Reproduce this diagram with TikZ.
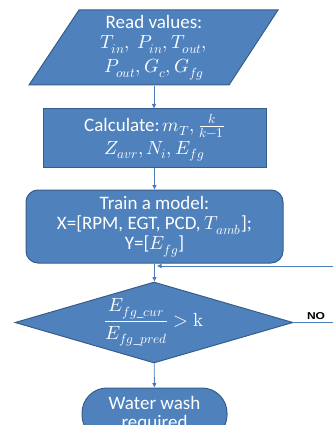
\documentclass[tikz,border=0pt]{standalone}
\usepackage{fontspec}
\usepackage{unicode-math}
\setmainfont{Carlito}
\newfontfamily\nofont{Liberation Sans}
\usetikzlibrary{shapes.geometric,arrows.meta}
\definecolor{boxblue}{HTML}{4F81BD}
\definecolor{edgeblue}{HTML}{385D8A}
\definecolor{lineblue}{HTML}{4A7EBB}

\begin{document}
\begin{tikzpicture}[x=1pt,y=-1pt,
  box/.style={draw=edgeblue,fill=boxblue,line width=1pt,text=white,align=center,
    font=\fontsize{19}{21}\selectfont},
  link/.style={draw=lineblue,line width=0.9pt,-{Triangle[length=4.5pt,width=4pt]}}]
  \useasboundingbox (0,0) rectangle (333,425);

  % input parallelogram, text node on top of it
  \draw[box] (79,10) -- (278,10) -- (229,85) -- (29,85) -- cycle;
  \node[box,draw=none,fill=none,minimum height=75pt] (read) at (154,48)
    {Read values:\\[-1pt] $T_{in},\ P_{in},T_{out},$\\[3pt] $P_{out}, G_c, G_{fg}$};

  \node[box,minimum width=223pt,minimum height=58pt] (calc) at (154.5,138)
    {Calculate:\,$m_T,\frac{k}{k-1}$\\[2pt] $Z_{avr}, N_i, E_{fg}$};

  \node[box,rounded corners=12pt,minimum width=257pt,minimum height=73pt] (train) at (154.5,226.5)
    {Train a model:\\[-1pt] X=[RPM, EGT, PCD, $T_{amb}$];\\[-1pt] Y=[$E_{fg}$]};

  \node[box,diamond,aspect=3.4,inner sep=1pt,minimum width=278pt,minimum height=81pt] (check) at (154,322.5)
    {$\dfrac{E_{fg\_cur}}{E_{fg\_pred}} > \symup{k}$};

  \node[box,rounded corners=25pt,minimum width=145pt,minimum height=52pt] (wash) at (154.5,414)
    {Water wash\\[-2pt] required};

  \coordinate (back) at (333,266);
  \coordinate (join) at (157,266);
  \coordinate (noend) at (333,322.5);

  \draw[link] (read.south) -- (read.south |- calc.north);
  \draw[link] (calc) -- (train);
  \draw[link] (train.south) -- (train.south |- check.north);
  \draw[link] (back) -- (join);
  \draw[link] (check) -- (wash);
  \draw[draw=lineblue,line width=0.9pt] (check.east) -- (noend);
  \node[font=\nofont\bfseries\fontsize{10}{12}\selectfont,inner sep=0pt,xscale=1.2] (no) at (316,316) {NO};
\end{tikzpicture}
\end{document}
